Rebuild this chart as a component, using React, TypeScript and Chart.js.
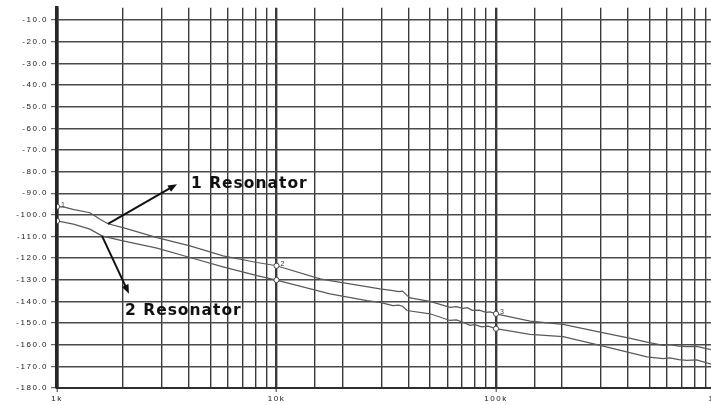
import React, { useEffect, useRef } from 'react';
import { Chart, registerables } from 'chart.js';

Chart.register(...registerables);

// Phase noise traces (dBc/Hz vs offset frequency in Hz)
const freq1 = [1000, 1080, 1183, 1413, 1570, 1707, 1998, 2855, 4036, 5706, 8151, 10000, 15790, 17520, 23000, 29610, 33950, 36000, 37500, 39310, 40570, 50030, 61720, 66000, 70730, 74000, 78000, 84000, 90000, 94000, 100000, 142900, 202000, 297800, 400000, 487500, 576600, 620000, 680000, 741800, 820000, 953900, 1000000];
const db1 = [-96.2, -96.4, -97.5, -99.0, -102.0, -104.1, -105.9, -110.5, -114.3, -118.9, -122.0, -123.5, -129.6, -130.4, -132.3, -134.2, -135.0, -135.5, -135.2, -137.2, -138.4, -140.0, -142.7, -142.4, -143.2, -142.9, -144.1, -144.0, -145.0, -144.8, -145.7, -149.1, -150.6, -154.2, -156.8, -158.8, -160.3, -160.0, -160.6, -160.9, -160.8, -162.3, -162.4];

const freq2 = [1000, 1187, 1413, 1599, 1998, 2855, 4036, 5706, 8151, 10000, 17520, 25840, 29610, 33950, 36000, 37500, 39310, 50030, 61720, 66000, 70730, 76110, 80000, 86000, 92000, 100000, 142900, 202000, 297800, 487500, 576600, 620000, 680000, 741800, 820000, 953900, 1000000];
const db2 = [-102.8, -104.3, -106.6, -109.7, -112.0, -115.4, -119.7, -124.0, -128.1, -130.1, -136.5, -139.6, -140.4, -141.9, -141.7, -142.2, -144.2, -145.7, -148.8, -148.5, -149.6, -151.0, -150.7, -151.7, -151.4, -152.6, -155.2, -156.3, -160.3, -165.6, -166.4, -166.1, -166.9, -167.2, -167.0, -169.0, -169.2];

// Marker frequencies and their labels on the upper trace
const markerFreqs = [1000, 10000, 100000];
const markerLabels = ['1', '2', '3'];

// Decade labels on the frequency axis
const decadeValues = [1000, 10000, 100000, 1000000];
const decadeLabels = ['1k', '10k', '100k', '1M'];

// Callouts: text anchor and arrow, in (Hz, dB) coordinates
const noteTexts = ['1 Resonator', '2 Resonator'];
const noteFreq = [4078, 2041];
const noteDb = [-85.8, -144.2];
const arrowFromFreq = [1707, 1603];
const arrowFromDb = [-104.1, -109.7];
const arrowToFreq = [3522, 2128];
const arrowToDb = [-85.8, -136.4];

const Y_MIN = -180;
const Y_MAX = -4.3;

const isDecade = (v?: number) => {
  if (v === undefined || v === null) return false;
  const l = Math.log10(v);
  return Math.abs(l - Math.round(l)) < 1e-6;
};

const isMarker = (v: number) => markerFreqs.some((m) => Math.abs(m - v) < 1e-6);

function drawArrow(ctx: CanvasRenderingContext2D, x1: number, y1: number, x2: number, y2: number) {
  const a = Math.atan2(y2 - y1, x2 - x1);
  const L = 9;
  const W = 3.6;
  ctx.beginPath();
  ctx.moveTo(x1, y1);
  ctx.lineTo(x2 - (L - 2) * Math.cos(a), y2 - (L - 2) * Math.sin(a));
  ctx.stroke();
  ctx.beginPath();
  ctx.moveTo(x2, y2);
  ctx.lineTo(x2 - L * Math.cos(a) + W * Math.sin(a), y2 - L * Math.sin(a) - W * Math.cos(a));
  ctx.lineTo(x2 - L * Math.cos(a) - W * Math.sin(a), y2 - L * Math.sin(a) + W * Math.cos(a));
  ctx.closePath();
  ctx.fill();
}

const overlayPlugin = {
  id: 'overlay',
  beforeDraw(chart: any) {
    chart.ctx.letterSpacing = '1.5px';
  },
  beforeDatasetsDraw(chart: any) {
    chart.ctx.letterSpacing = '0px';
  },
  afterDatasetsDraw(chart: any) {
    const { ctx, scales } = chart;
    const xs = scales.x;
    const ys = scales.y;
    ctx.save();

    // marker numbers beside the upper trace
    ctx.font = '7px "Liberation Sans"';
    ctx.fillStyle = '#333';
    ctx.textBaseline = 'middle';
    ctx.textAlign = 'left';
    markerFreqs.forEach((f, i) => {
      const idx = freq1.indexOf(f);
      const px = xs.getPixelForValue(f);
      const py = ys.getPixelForValue(db1[idx]);
      ctx.fillText(markerLabels[i], px + 4, py - 2);
    });

    // callout arrows
    ctx.strokeStyle = '#111';
    ctx.fillStyle = '#111';
    ctx.lineWidth = 2;
    noteTexts.forEach((_, i) => {
      drawArrow(
        ctx,
        xs.getPixelForValue(arrowFromFreq[i]),
        ys.getPixelForValue(arrowFromDb[i]),
        xs.getPixelForValue(arrowToFreq[i]),
        ys.getPixelForValue(arrowToDb[i])
      );
    });

    // callout text
    ctx.font = 'bold 15.5px "DejaVu Sans"';
    ctx.letterSpacing = '1px';
    ctx.textBaseline = 'middle';
    ctx.textAlign = 'left';
    noteTexts.forEach((t, i) => {
      ctx.fillText(t, xs.getPixelForValue(noteFreq[i]), ys.getPixelForValue(noteDb[i]));
    });
    ctx.restore();
  },
};

export default function App() {
  const canvasRef = useRef<HTMLCanvasElement | null>(null);

  useEffect(() => {
    if (!canvasRef.current) return;
    const lineStyle = {
      borderColor: '#5a5a5a',
      borderWidth: 1.25,
      tension: 0,
      pointRadius: (c: any) => (c.raw && isMarker(c.raw.x) ? 2.6 : 0),
      pointBackgroundColor: '#fff',
      pointBorderColor: '#444',
      pointBorderWidth: 1,
      fill: false,
    };
    const chart = new Chart(canvasRef.current, {
      type: 'line',
      data: {
        datasets: [
          { label: '1 Resonator', data: freq1.map((f, i) => ({ x: f, y: db1[i] })), ...lineStyle },
          { label: '2 Resonator', data: freq2.map((f, i) => ({ x: f, y: db2[i] })), ...lineStyle },
        ],
      },
      options: {
        responsive: false,
        animation: false,
        events: [],
        layout: { padding: { top: 6, right: 14.5, bottom: 0, left: 0 } },
        plugins: { legend: { display: false }, tooltip: { enabled: false } },
        scales: {
          x: {
            type: 'logarithmic',
            min: 1000,
            max: 1000000,
            afterFit: (s: any) => {
              s.height = 17;
              s.paddingLeft = 0;
              s.paddingRight = 0;
            },
            border: { display: true, color: '#2e2e2e', width: 2 },
            grid: {
              color: '#3a3a3a',
              lineWidth: (c: any) => (isDecade(c.tick?.value) ? 2.4 : 1.4),
              drawTicks: true,
              tickLength: 4,
              tickColor: (c: any) => (isDecade(c.tick?.value) ? '#333' : 'rgba(0,0,0,0)'),
              tickWidth: 1,
            },
            ticks: {
              autoSkip: false,
              maxRotation: 0,
              padding: 2,
              color: '#1a1a1a',
              font: { family: 'Liberation Sans', size: 8 },
              callback: (v: any) => {
                const i = decadeValues.findIndex((d) => Math.abs(d - Number(v)) < 1e-6);
                return i >= 0 ? decadeLabels[i] : '';
              },
            },
          },
          y: {
            type: 'linear',
            min: Y_MIN,
            max: Y_MAX,
            afterFit: (s: any) => {
              s.width = 57;
            },
            border: { display: true, color: '#262626', width: 3.5 },
            grid: {
              color: '#4a4a4a',
              lineWidth: 1.4,
              drawTicks: true,
              tickLength: 6,
              tickColor: '#444',
              tickWidth: 1,
            },
            ticks: {
              stepSize: 10,
              includeBounds: false,
              padding: 3,
              color: '#1a1a1a',
              font: { family: 'Liberation Sans', size: 8 },
              callback: (v: any) => Number(v).toFixed(1),
            },
          },
        },
      },
      plugins: [overlayPlugin],
    } as any);
    return () => chart.destroy();
  }, []);

  return (
    <div
      style={{
        position: 'fixed',
        left: 0,
        top: 0,
        width: 711,
        height: 405,
        overflow: 'hidden',
        background: '#fff',
      }}
    >
      <canvas ref={canvasRef} width={730} height={405} style={{ display: 'block' }} />
    </div>
  );
}
